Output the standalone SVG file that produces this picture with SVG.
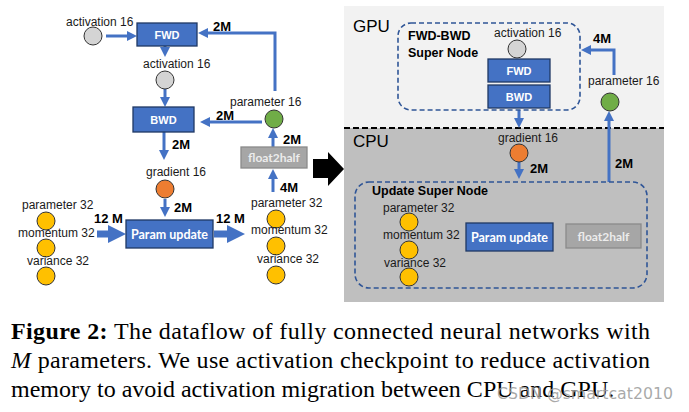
<svg xmlns="http://www.w3.org/2000/svg" width="689" height="412" viewBox="0 0 689 412">
<style>
.lbl{font-family:"Liberation Sans",Arial,sans-serif;font-size:12px;fill:#1a1a1a}
.num{font-family:"Liberation Sans",Arial,sans-serif;font-size:13px;font-weight:bold;fill:#000}
.box{fill:#4472c4;stroke:#1f3864;stroke-width:1.3}
.btxt{font-family:"Liberation Sans",Arial,sans-serif;font-size:11px;font-weight:bold;fill:#fff;text-anchor:middle}
.ptxt{font-family:Lato,"Open Sans",sans-serif;font-size:12.5px;font-weight:bold;fill:#fff;text-anchor:middle}
.gbox{fill:#a6a6a6;stroke:#8a8a8a;stroke-width:1.3}
.gtxt{font-family:Lato,"Open Sans",sans-serif;font-size:12px;font-weight:bold;fill:#ececec;text-anchor:middle}
.c{stroke:#333;stroke-width:1}
.gray{fill:#d4d4d4}.green{fill:#70ad47}.orange{fill:#ed7d31}.yellow{fill:#ffc000}
.ar{stroke:#4472c4;stroke-width:3;fill:none;marker-end:url(#ah)}
.sup{fill:none;stroke:#2f5597;stroke-width:1.6;stroke-dasharray:5 3}
.ttl{font-family:"Liberation Sans",Arial,sans-serif;font-size:12.5px;font-weight:bold;fill:#000}
.big{font-family:"Liberation Sans",Arial,sans-serif;font-size:17px;fill:#000}
.cap{font-family:"Liberation Serif","Times New Roman",serif;font-size:24px;fill:#000}
</style>
<defs>
<marker id="ah" markerUnits="userSpaceOnUse" markerWidth="11" markerHeight="11" refX="6" refY="5" orient="auto">
<path d="M0,0 L10,5 L0,10 Z" fill="#4472c4"/>
</marker>
</defs>

<!-- backgrounds -->
<g id="regions">
<rect x="344" y="6" width="320" height="122" fill="#f2f2f2"/>
<rect x="344" y="128" width="320" height="174" fill="#bfbfbf"/>
<line x1="344" y1="128" x2="664" y2="128" stroke="#000" stroke-width="1.8" stroke-dasharray="6 3"/>
<text class="big" x="353" y="32">GPU</text>
<text class="big" x="353" y="147">CPU</text>
</g>

<!-- connectors -->
<g id="connectors">
<!-- left panel -->
<path class="ar" d="M106,36 L133,36"/>
<path class="ar" d="M165,46 L165,53"/>
<path class="ar" d="M165,89 L165,103"/>
<path class="ar" d="M164,132 L164,156"/>
<path class="ar" d="M165,199 L165,213"/>
<path class="ar" d="M262,122 L204,122"/>
<path class="ar" d="M275,91 L275,33 L202,33"/>
<path class="ar" d="M273,147 L273,132"/>
<path class="ar" d="M273,192 L273,173"/>
<polygon points="97,230.5 108,230.5 108,225 126,234 108,243 108,237.5 97,237.5" fill="#4472c4"/>
<polygon points="214,230.5 227,230.5 227,225 245,234 227,243 227,237.5 214,237.5" fill="#4472c4"/>
<polygon points="313,159 328,159 328,152 344,169 328,186 328,178 313,178" fill="#000"/>
<!-- right panel -->
<path class="ar" d="M614,75 L614,50 L585,50"/>
<path class="ar" d="M519,110 L519,124"/>
<path class="ar" d="M519,162 L519,175"/>
<path class="ar" d="M609,182 L609,115"/>
</g>

<!-- connector labels -->
<g id="connector-labels">
<text class="num" x="213" y="31">2M</text>
<text class="num" x="216" y="120">2M</text>
<text class="num" x="172" y="149">2M</text>
<text class="num" x="174" y="212">2M</text>
<text class="num" x="283" y="144">2M</text>
<text class="num" x="280" y="192">4M</text>
<text class="num" x="94" y="223">12 M</text>
<text class="num" x="216" y="223">12 M</text>
<text class="num" x="593" y="43">4M</text>
<text class="num" x="530" y="173">2M</text>
<text class="num" x="615" y="168">2M</text>
</g>

<!-- left panel nodes -->
<g id="act16-in">
<text class="lbl" x="66" y="26">activation 16</text>
<circle class="c gray" cx="93" cy="36" r="9"/>
</g>
<g id="fwd">
<rect class="box" x="137" y="23" width="60" height="23"/>
<text class="btxt" x="167" y="38.5">FWD</text>
</g>
<g id="act16-mid">
<text class="lbl" x="143" y="68">activation 16</text>
<circle class="c gray" cx="165" cy="80" r="9"/>
</g>
<g id="bwd">
<rect class="box" x="133" y="107" width="61" height="25"/>
<text class="btxt" x="163.5" y="123.5">BWD</text>
</g>
<g id="param16">
<text class="lbl" x="230" y="106">parameter 16</text>
<circle class="c green" cx="274" cy="119" r="9"/>
</g>
<g id="float2half">
<rect class="gbox" x="241" y="147" width="66" height="21"/>
<text class="gtxt" x="274" y="162">float2half</text>
</g>
<g id="grad16">
<text class="lbl" x="146" y="176">gradient 16</text>
<circle class="c orange" cx="165" cy="189" r="9"/>
</g>
<g id="param-update">
<rect class="box" x="126" y="220" width="87" height="28"/>
<text class="ptxt" x="169.5" y="238.5">Param update</text>
</g>
<g id="opt-state-in">
<text class="lbl" x="22" y="209">parameter 32</text>
<circle class="c yellow" cx="46" cy="221" r="9"/>
<text class="lbl" x="18" y="237">momentum 32</text>
<circle class="c yellow" cx="46" cy="248" r="9"/>
<text class="lbl" x="27" y="265">variance 32</text>
<circle class="c yellow" cx="46" cy="276" r="9"/>
</g>
<g id="opt-state-out">
<text class="lbl" x="251" y="207">parameter 32</text>
<circle class="c yellow" cx="276" cy="219" r="9"/>
<text class="lbl" x="251" y="234">momentum 32</text>
<circle class="c yellow" cx="276" cy="246" r="9"/>
<text class="lbl" x="257" y="263">variance 32</text>
<circle class="c yellow" cx="276" cy="275" r="9"/>
</g>

<!-- right panel nodes -->
<g id="fwd-bwd-super">
<rect class="sup" x="398" y="23" width="182" height="87" rx="13"/>
<text class="ttl" x="408" y="40">FWD-BWD</text>
<text class="ttl" x="408" y="57">Super Node</text>
<text class="lbl" x="494" y="37">activation 16</text>
<circle class="c gray" cx="517" cy="49" r="9"/>
<rect class="box" x="488" y="59" width="62" height="23"/>
<text class="btxt" x="519" y="74.5">FWD</text>
<rect class="box" x="488" y="85" width="62" height="23"/>
<text class="btxt" x="519" y="100.5">BWD</text>
</g>
<g id="gpu-param16">
<text class="lbl" x="588" y="85">parameter 16</text>
<circle class="c green" cx="610" cy="102" r="9"/>
</g>
<g id="cpu-grad16">
<text class="lbl" x="498" y="142">gradient 16</text>
<circle class="c orange" cx="519" cy="153" r="9"/>
</g>
<g id="update-super">
<rect class="sup" x="355" y="182" width="292" height="106" rx="14"/>
<text class="ttl" x="372" y="195">Update Super Node</text>
<text class="lbl" x="383" y="212">parameter 32</text>
<circle class="c yellow" cx="409" cy="222" r="9"/>
<text class="lbl" x="383" y="239">momentum 32</text>
<circle class="c yellow" cx="409" cy="250" r="9"/>
<text class="lbl" x="384" y="267">variance 32</text>
<circle class="c yellow" cx="409" cy="277" r="9"/>
<rect class="box" x="466" y="223" width="87" height="28"/>
<text class="ptxt" x="509.5" y="241.5">Param update</text>
<rect class="gbox" x="566" y="224" width="75" height="24"/>
<text class="gtxt" x="603.5" y="240.5">float2half</text>
</g>

<!-- caption -->
<g id="caption">
<text class="cap" x="11" y="339" textLength="639" lengthAdjust="spacing"><tspan font-weight="bold">Figure 2:</tspan> The dataflow of fully connected neural networks with</text>
<text class="cap" x="11" y="368" textLength="639" lengthAdjust="spacing"><tspan font-style="italic">M</tspan> parameters. We use activation checkpoint to reduce activation</text>
<text class="cap" x="11" y="397">memory to avoid activation migration between CPU and GPU.</text>
<text x="497" y="399" font-family="'DejaVu Sans','Liberation Sans',sans-serif" font-size="16" fill="#9a9a9a" fill-opacity="0.85" textLength="176" lengthAdjust="spacingAndGlyphs">CSDN @smartcat2010</text>
</g>
</svg>
